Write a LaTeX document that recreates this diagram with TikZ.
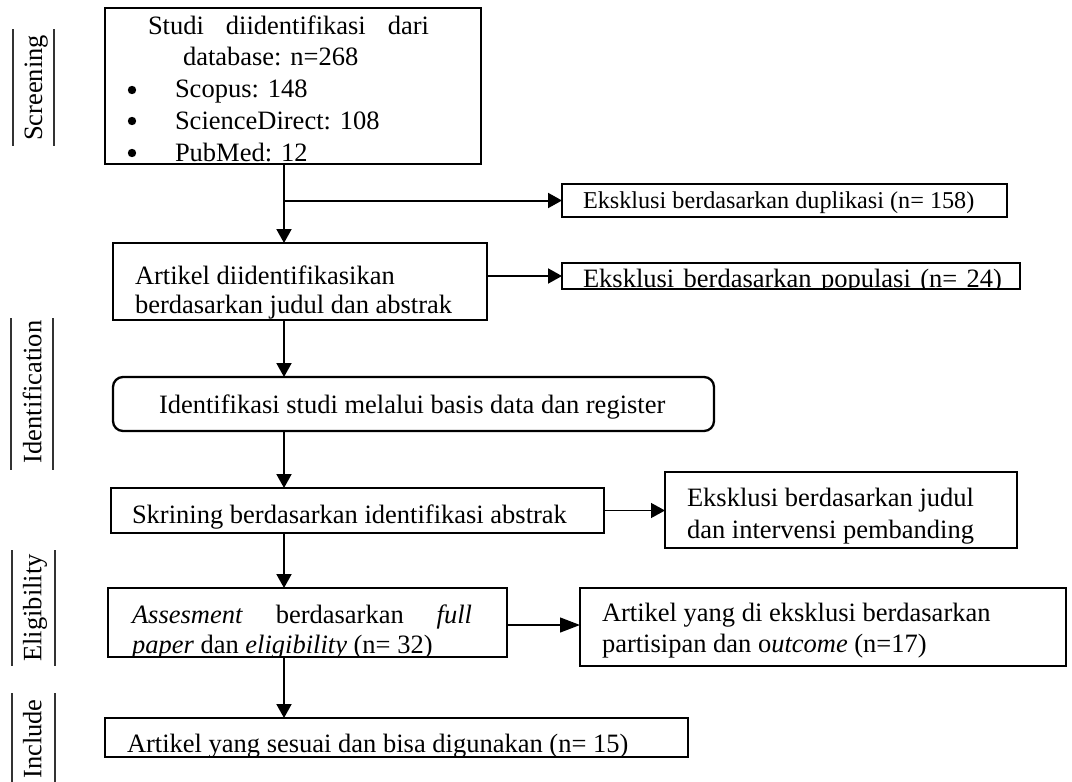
\documentclass[tikz,border=0pt]{standalone}
\usepackage{fontspec}
\setmainfont{Liberation Serif}
\usetikzlibrary{arrows.meta}
\begin{document}
\begin{tikzpicture}[x=1pt,y=-1pt,
  font=\fontsize{26.5}{30.5}\selectfont,
  boxst/.style={draw, line width=2.6pt, inner sep=0pt, outer sep=0pt, anchor=north west},
  roundbox/.style={boxst, rounded corners=10pt, line width=2.3pt},
  txt/.style={anchor=base west, inner sep=0pt, outer sep=0pt},
  bulletdot/.style={fill=black},
  small/.style={font=\fontsize{24.2}{28}\selectfont},
  lbl/.style={anchor=base, rotate=90, inner sep=0pt},
  sepline/.style={line width=2.2pt, black!80},
  arr/.style={line width=2pt, -{Triangle[length=14pt,width=15pt]}},
  thinarr/.style={line width=1.3pt, -{Triangle[length=14pt,width=15pt]}},
  longarr/.style={line width=1.3pt, -{Triangle[length=20pt,width=15pt]}},
]
\useasboundingbox (0,0) rectangle (1072,782);

% boxes
\node[boxst, minimum width=376pt, minimum height=156pt] (box1) at (105,8) {};
\node[boxst, minimum width=445pt, minimum height=33pt] (dup) at (562,184) {};
\node[boxst, minimum width=374pt, minimum height=77pt] (box2) at (113,243) {};
\node[boxst, minimum width=458pt, minimum height=26pt] (pop) at (562,263) {};
\node[roundbox, minimum width=601pt, minimum height=54pt] (rb) at (113,377) {};
\node[boxst, minimum width=493pt, minimum height=45pt] (box4) at (111,488) {};
\node[boxst, minimum width=352pt, minimum height=76pt] (ex3) at (665,472) {};
\node[boxst, minimum width=399pt, minimum height=69pt] (box5) at (108,588) {};
\node[boxst, minimum width=486pt, minimum height=78pt] (ex4) at (580,588) {};
\node[boxst, minimum width=583pt, minimum height=39pt] (box6) at (105,718) {};

% texts
\begin{scope}
  \clip (box1.north west) rectangle (box1.south east);
  \node[txt] (t1a) at (148,34) {\makebox[281pt][s]{Studi diidentifikasi dari}};
  \node[txt] (t1b) at (183,65) {database: n=268};
  \coordinate (b1) at (132,90);
  \coordinate (b2) at (132,121);
  \coordinate (b3) at (132,153);
  \fill[bulletdot] (b1) circle (4.2);
  \fill[bulletdot] (b2) circle (4.2);
  \fill[bulletdot] (b3) circle (4.2);
  \node[txt] (t1c) at (175,97) {Scopus: 148};
  \node[txt] (t1d) at (175,129) {ScienceDirect: 108};
  \node[txt] (t1e) at (175,161) {PubMed: 12};
\end{scope}

\node[txt, small] (tdup) at (583,208) {Eksklusi berdasarkan duplikasi (n= 158)};

\node[txt] (t2a) at (135,284) {Artikel diidentifikasikan};
\node[txt] (t2b) at (135,313) {berdasarkan judul dan abstrak};

\begin{scope}
  \clip (pop.north west) rectangle (pop.south east);
  \node[txt] (tpop) at (583,287) {\makebox[419pt][s]{Eksklusi berdasarkan populasi (n= 24)}};
\end{scope}

\node[txt] (trb) at (159,413) {Identifikasi studi melalui basis data dan register};

\node[txt] (t4) at (132,523) {Skrining berdasarkan identifikasi abstrak};

\node[txt] (t3a) at (687,506) {Eksklusi berdasarkan judul};
\node[txt] (t3b) at (687,538) {dan intervensi pembanding};

\begin{scope}
  \clip (box5.north west) rectangle (box5.south east);
  \node[txt] (t5a) at (132,623) {\makebox[340pt][s]{\textit{Assesment} berdasarkan \textit{full}}};
  \node[txt] (t5b) at (132,653) {\textit{paper} dan \textit{eligibility} (n= 32)};
\end{scope}

\node[txt] (t4a) at (602,621) {Artikel yang di eksklusi berdasarkan};
\node[txt] (t4b) at (602,652) {partisipan dan o\textit{utcome} (n=17)};

\begin{scope}
  \clip (box6.north west) rectangle (box6.south east);
  \node[txt] (t6) at (127,752) {Artikel yang sesuai dan bisa digunakan (n= 15)};
\end{scope}

% section labels
\draw[sepline] (13,29) -- (13,146);
\draw[sepline] (54,29) -- (54,146);
\node[lbl] (lscr) at (42,88) {Screening};
\draw[sepline] (11,318) -- (11,470);
\draw[sepline] (53,318) -- (53,470);
\node[lbl] (lide) at (41.5,392) {Identification};
\draw[sepline] (12,550) -- (12,666);
\draw[sepline] (55,550) -- (55,666);
\node[lbl] (lelg) at (41.5,608) {Eligibility};
\draw[sepline] (12,693) -- (12,790);
\draw[sepline] (55,693) -- (55,790);
\node[lbl] (linc) at (41.5,739) {Include};

% connectors
\coordinate (spine) at (284,0);
\draw[arr] (box1.south -| spine) -- (box2.north -| spine);
\draw[arr] (dup.west -| spine) -- (dup.west);
\draw[arr] (pop.west -| box2.east) -- (pop.west);
\draw[arr] (box2.south -| spine) -- (rb.north -| spine);
\draw[arr] (rb.south -| spine) -- (box4.north -| spine);
\draw[thinarr] (box4.east) -- (box4.east -| ex3.west);
\draw[arr] (box4.south -| spine) -- (box5.north -| spine);
\draw[longarr] ([yshift=-2.5pt]box5.east) -- ([yshift=-2.5pt]box5.east -| ex4.west);
\draw[arr] (box5.south -| spine) -- (box6.north -| spine);
\end{tikzpicture}
\end{document}
